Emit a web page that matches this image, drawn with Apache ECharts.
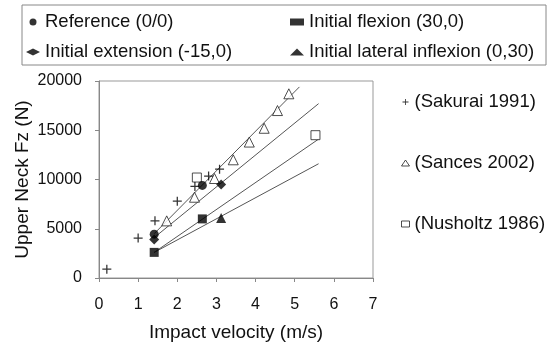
<!DOCTYPE html>
<html>
<head>
<meta charset="utf-8">
<script src="https://cdn.jsdelivr.net/npm/echarts@6/dist/echarts.min.js"></script>
<style>
  html, body { margin: 0; padding: 0; background: #fff; }
  #chart { width: 555px; height: 347px; }
</style>
</head>
<body>
<div id="chart"></div>
<script>
// impact velocity (m/s) and upper neck Fz (N)
const sakuraiV = [0.2, 1.0, 1.43, 2.0, 2.45, 2.8, 3.08];
const sakuraiF = [900, 4050, 5800, 7800, 9300, 10350, 11050];
const sancesV = [1.73, 2.44, 2.95, 3.43, 3.84, 4.22, 4.56, 4.85];
const sancesF = [5800, 8200, 10100, 12000, 13800, 15200, 17000, 18700];
const nusholtzV = [2.5, 5.53];
const nusholtzF = [10200, 14500];

const referenceV = [1.41, 2.64];
const referenceF = [4450, 9400];
const extensionV = [1.41, 3.12];
const extensionF = [3900, 9500];
const flexionV = [1.41, 2.64];
const flexionF = [2600, 6000];
const lateralV = [3.12];
const lateralF = [6100];

// trend lines: start/end velocity and force
const trendV = [[1.41, 5.12], [1.41, 5.61], [1.41, 5.61], [1.41, 5.61]];
const trendF = [[4500, 19400], [4100, 17700], [2600, 14100], [2600, 11600]];

const xTicks = [0, 7, 1];
const yTicks = [0, 20000, 5000];

const pair = (xs, ys) => xs.map((x, i) => [x, ys[i]]);
const font = '"Liberation Sans", Arial, sans-serif';
const plus = 'path://M4,0h1.4v4.3h4.3v1.4h-4.3v4.3h-1.4v-4.3h-4.3v-1.4h4.3z';

const chart = echarts.init(document.getElementById('chart'));

const filled = (name, symbol, size, xs, ys) => ({
  name, type: 'scatter', symbol, symbolSize: size,
  data: pair(xs, ys),
  itemStyle: { color: '#000' },
  z: 5
});
const open = (name, symbol, size, xs, ys) => ({
  name, type: 'scatter', symbol, symbolSize: size,
  data: pair(xs, ys),
  itemStyle: { color: '#fff', borderColor: '#222', borderWidth: 1 },
  z: 4
});

const trendSeries = trendV.map((xs, i) => ({
  type: 'line',
  data: pair(xs, trendF[i]),
  showSymbol: false,
  symbol: 'none',
  lineStyle: { color: '#555', width: 1 },
  silent: true,
  z: 3
}));

const legendText = { fontFamily: font, fontSize: 18.5, color: '#111', lineHeight: 20 };

chart.setOption({
  animation: false,
  textStyle: { fontFamily: font },
  grid: { left: 99, right: 182, top: 81, bottom: 66, show: true, borderColor: '#999', borderWidth: 1 },
  graphic: [{
    type: 'rect',
    shape: { x: 22, y: 5, width: 524, height: 60 },
    style: { fill: 'none', stroke: '#888', lineWidth: 1 },
    silent: true
  }],
  legend: [
    {
      orient: 'vertical', left: 26, top: 12, padding: 0, itemGap: 10,
      itemWidth: 14, itemHeight: 7,
      textStyle: legendText,
      data: ['Reference (0/0)', 'Initial extension (-15,0)']
    },
    {
      orient: 'vertical', left: 290, top: 12, padding: 0, itemGap: 10,
      itemWidth: 14, itemHeight: 7,
      textStyle: legendText,
      data: ['Initial flexion (30,0)', 'Initial lateral inflexion (0,30)']
    },
    {
      orient: 'vertical', left: 401, top: 92, padding: 0, itemGap: 41,
      itemWidth: 8, itemHeight: 6,
      textStyle: legendText,
      data: [
        { name: '(Sakurai 1991)' },
        { name: '(Sances 2002)', itemStyle: { borderWidth: 1 } },
        { name: '(Nusholtz 1986)', itemStyle: { borderWidth: 1 } }
      ]
    }
  ],
  xAxis: {
    type: 'value', min: xTicks[0], max: xTicks[1], interval: xTicks[2],
    name: 'Impact velocity (m/s)', nameLocation: 'middle', nameGap: 45,
    nameTextStyle: { fontSize: 19, color: '#111', fontFamily: font },
    axisLine: { lineStyle: { color: '#888' } },
    axisTick: { show: true, length: 4, lineStyle: { color: '#888' } },
    axisLabel: { fontSize: 16, color: '#111', margin: 19 },
    splitLine: { show: false }
  },
  yAxis: {
    type: 'value', min: yTicks[0], max: yTicks[1], interval: yTicks[2],
    name: 'Upper Neck Fz (N)', nameLocation: 'middle', nameGap: 67,
    nameTextStyle: { fontSize: 19, color: '#111', fontFamily: font },
    axisLine: { show: true, lineStyle: { color: '#888' } },
    axisTick: { show: true, length: 4, lineStyle: { color: '#888' } },
    axisLabel: { fontSize: 16, color: '#111', margin: 17, formatter: v => String(v) },
    splitLine: { show: false }
  },
  series: [
    ...trendSeries,
    filled('Reference (0/0)', 'circle', 9, referenceV, referenceF),
    filled('Initial extension (-15,0)', 'diamond', 10, extensionV, extensionF),
    filled('Initial flexion (30,0)', 'rect', 9, flexionV, flexionF),
    filled('Initial lateral inflexion (0,30)', 'triangle', 10, lateralV, lateralF),
    filled('(Sakurai 1991)', plus, 9, sakuraiV, sakuraiF),
    open('(Sances 2002)', 'triangle', 10, sancesV, sancesF),
    open('(Nusholtz 1986)', 'rect', 9, nusholtzV, nusholtzF)
  ]
});
</script>
</body>
</html>
